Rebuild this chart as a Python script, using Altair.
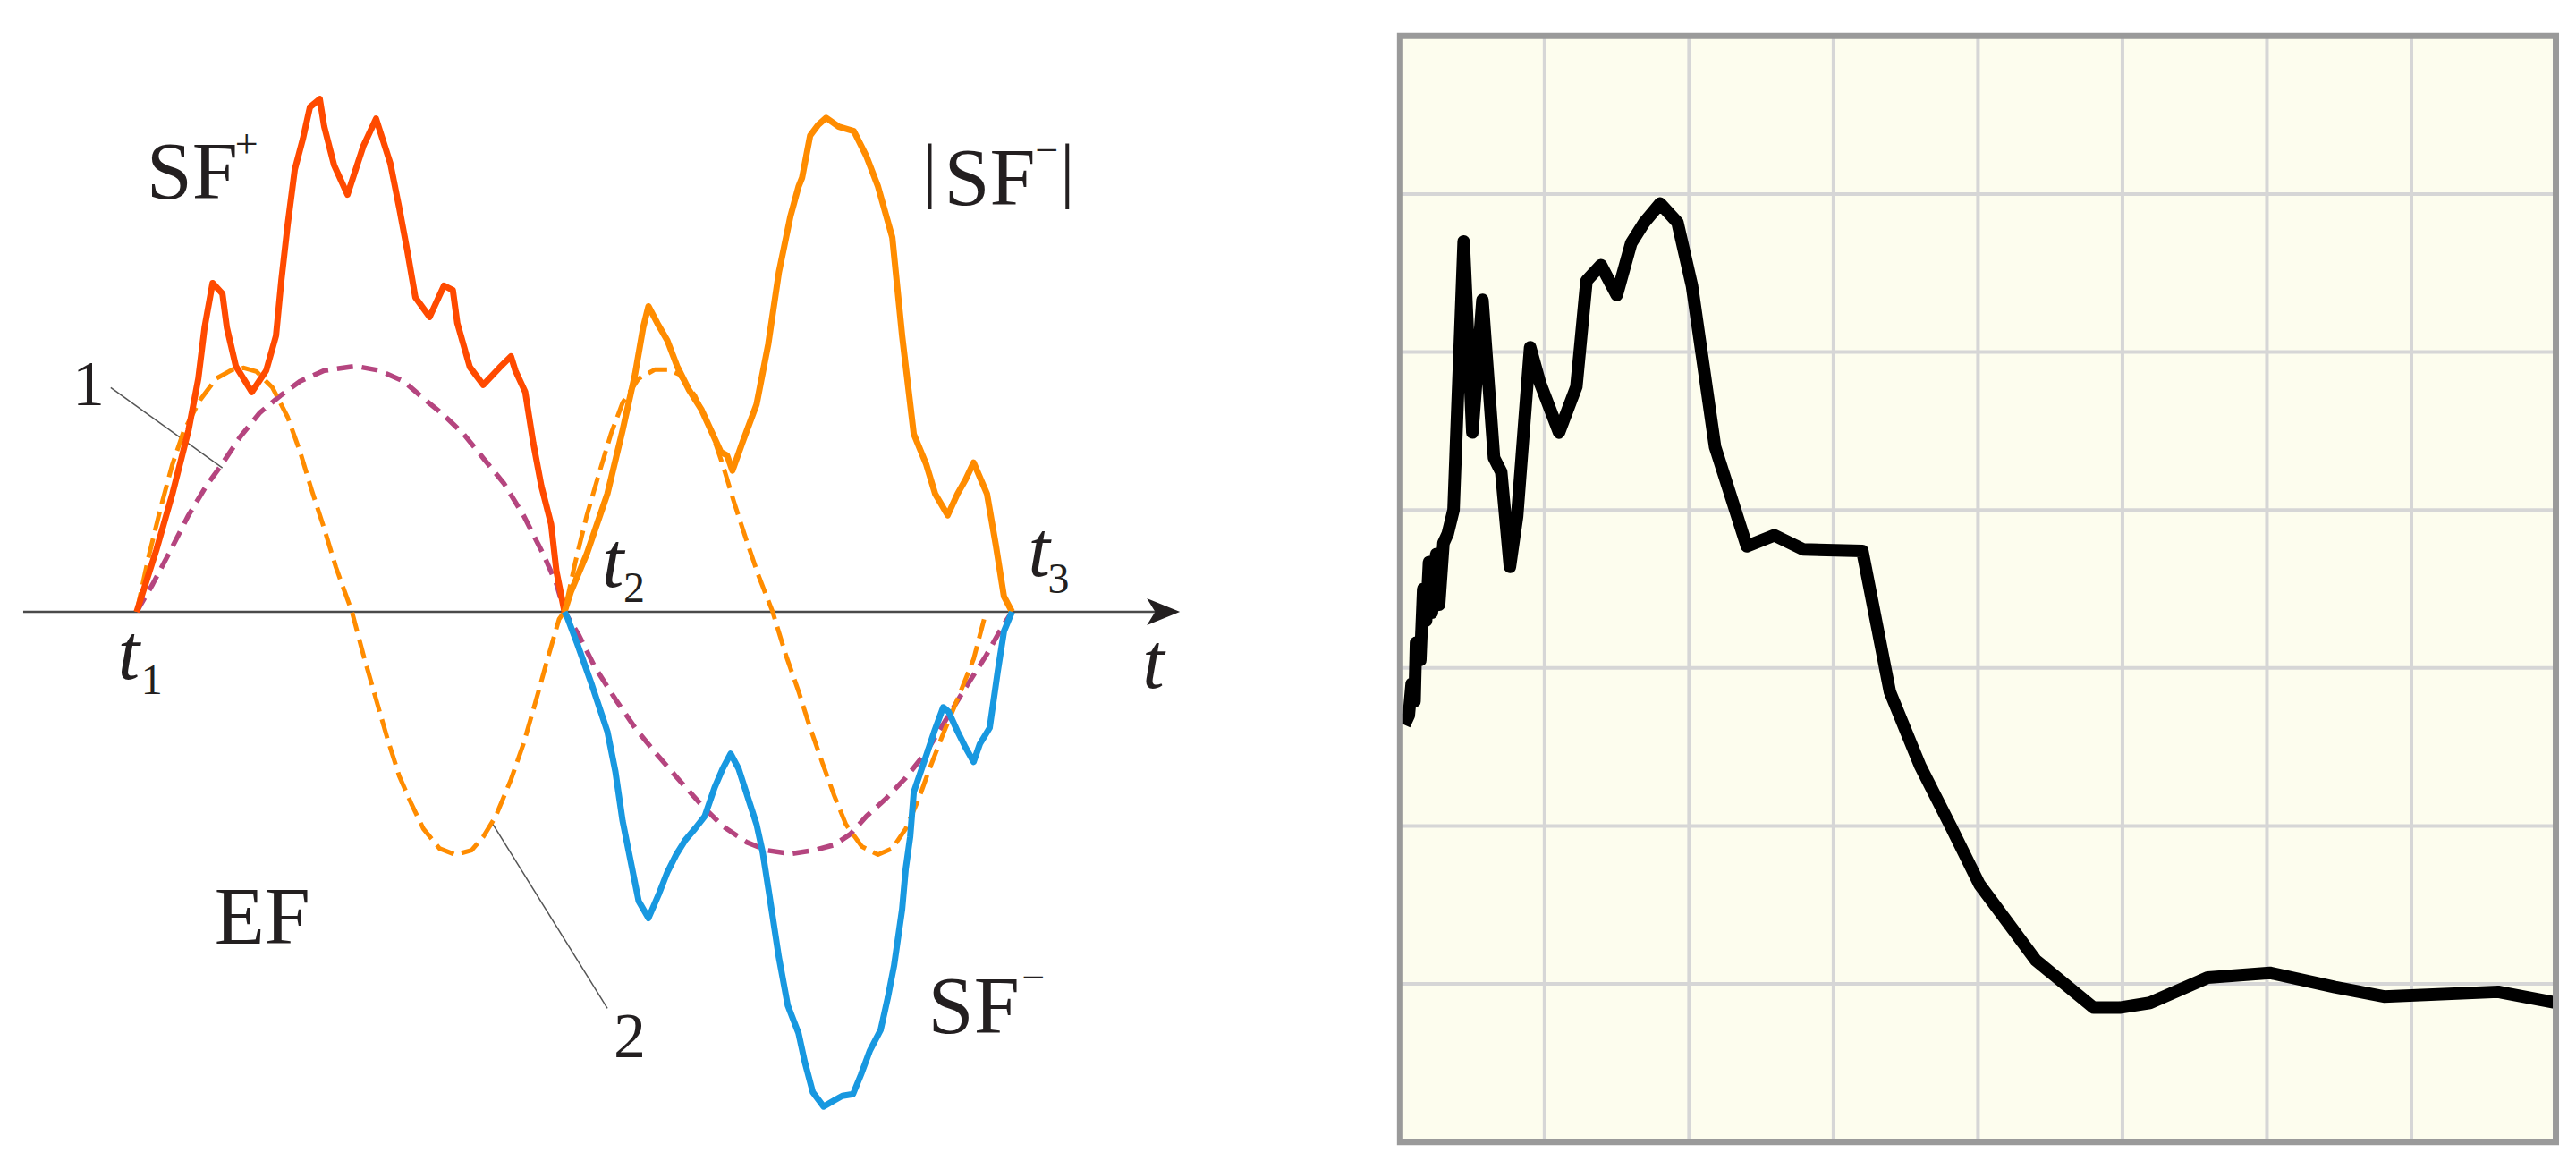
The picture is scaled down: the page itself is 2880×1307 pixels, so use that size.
import altair as alt
import pandas as pd

# ---------------- left panel: schematic (x = time, y = amplitude) ----------------
sfp_x = [152,174,192,210,221,228,237,248,253,263,281,297,308,314,321,329,338,346,357,362,
         373,388,406,420,436,446,455,464,480,496,506,511,525,540,558,571,576,587,596,605,
         616,622,631]
sfp_y = [0,69,132,203,261,318,368,356,318,275,246,270,309,371,433,495,529,565,574,543,
         500,467,522,552,502,452,404,352,330,365,360,323,274,254,273,286,270,246,189,141,
         98,45,0]

sfm_abs_x = [631,638,656,679,696,710,719,725,735,746,757,770,784,795,806,813,819,830,846,859,
             871,884,893,897,906,915,924,938,955,969,982,998,1009,1022,1036,1046,1060,1071,1080,1089,
             1104,1114,1123,1132]
sfm_abs_y = [0,22,65,132,203,266,318,342,323,304,275,249,227,203,179,175,158,189,232,299,
             380,443,476,486,533,545,553,543,538,510,476,419,309,199,165,132,108,132,148,167,
             132,74,17,0]

sfm_x = [631,634,645,661,679,688,696,705,714,725,737,746,756,766,777,788,799,808,817,826,
         835,846,853,860,871,881,893,900,909,921,933,942,954,963,973,985,993,1000,1009,1013,
         1018,1022,1036,1045,1055,1061,1071,1080,1089,1096,1107,1116,1123,1132]
sfm_y = [0,-6,-35,-80,-134,-179,-234,-279,-324,-343,-315,-292,-272,-256,-243,-229,-197,-176,-159,-176,
         -204,-238,-270,-315,-387,-441,-472,-504,-538,-554,-547,-542,-540,-518,-491,-468,-432,-396,-333,-288,
         -252,-202,-161,-134,-107,-112,-134,-152,-168,-148,-130,-67,-22,0]

curve1_x = [152,170,188,210,230,246,268,290,313,335,362,397,424,451,473,496,518,540,563,585,607,622,631,
            647,665,688,710,732,759,784,808,835,857,884,911,933,951,969,991,1013,1036,1058,1080,1103,1121,1132]
curve1_y = [0,31,65,108,141,163,196,223,242,258,270,275,270,258,239,220,199,172,144,108,65,31,0,
            -26,-62,-98,-130,-157,-188,-216,-240,-258,-267,-271,-267,-261,-249,-229,-209,-186,-157,-121,-85,-49,-17,0]

curve2_x = [152,165,179,192,205,223,241,259,272,286,304,321,335,348,362,375,393,
            406,420,433,446,460,473,491,509,527,540,554,571,585,598,612,625,631,
            643,656,670,683,696,714,732,746,759,777,795,808,821,835,848,864,
            879,893,906,920,933,946,964,982,998,1013,1027,1040,1054,1071,1089,1103]
curve2_y = [0,60,117,165,203,237,261,271,273,269,251,218,179,136,93,50,0,
            -49,-98,-143,-184,-216,-243,-265,-272,-267,-252,-229,-188,-148,-103,-53,-8,0,
            55,108,156,199,234,261,271,271,266,242,203,165,122,79,41,0,
            -49,-89,-130,-170,-206,-238,-263,-272,-265,-243,-211,-175,-139,-98,-53,0]

axis_x = [25, 1300]
axis_y = [0, 0]

# labels
big_text = ["SF", "SF", "EF", "SF"]
big_x = [163, 1056, 239, 1038]
big_y = [463, 456, -372, -472]

sup_text = ["+", "\u2212", "\u2212"]
sup_x = [262, 1158, 1143]
sup_y = [523, 516, -411]

bar_text = ["|", "|"]
bar_x = [1032, 1186]
bar_y = [468, 468]

num_text = ["1", "2"]
num_x = [80, 686]
num_y = [231, -499]

t_text = ["t", "t", "t", "t"]
t_x = [131, 673, 1150, 1278]
t_y = [-75, 28, 40, -85]

sub_text = ["1", "2", "3"]
sub_x = [157, 697, 1172]
sub_y = [-92, 11, 21]

lead_x = [123, 549]
lead_y = [251, -235]
lead_x2 = [248, 679]
lead_y2 = [161, -444]

# ---------------- right panel: measured curve on a grid ----------------
rec_x = [0.03,0.06,0.08,0.10,0.11,0.14,0.16,0.18,0.20,0.22,
         0.25,0.27,0.30,0.33,0.37,0.44,0.50,0.57,0.65,0.70,0.76,
         0.81,0.90,0.97,1.10,1.22,1.29,1.39,1.50,1.60,1.69,
         1.80,1.92,2.02,2.18,2.40,2.59,2.79,3.20,3.39,3.60,
         3.81,4.01,4.40,4.80,4.98,5.19,5.59,6.02,6.47,6.81,
         7.60,8.00]
rec_y = [2.64,2.70,2.90,2.79,3.16,3.05,3.50,3.30,3.67,3.35,
         3.72,3.40,3.79,3.85,4.00,5.70,4.49,5.33,4.33,4.24,3.64,
         3.96,5.03,4.80,4.49,4.78,5.45,5.55,5.36,5.69,5.82,
         5.94,5.82,5.42,4.40,3.77,3.84,3.75,3.74,2.85,2.38,
         2.00,1.63,1.15,0.85,0.85,0.88,1.04,1.07,0.98,0.92,
         0.95,0.88]
grid_cols = [1, 2, 3, 4, 5, 6, 7]
grid_rows = [1, 2, 3, 4, 5, 6]
x_extent = [0, 8]
y_extent = [0, 7]

INK = "#231F20"
SERIF = "Liberation Serif, Times New Roman, serif"

xl = alt.Scale(domain=[8, 1408], zero=False, nice=False)
yl = alt.Scale(domain=[-616, 675], zero=False, nice=False)


def XL(f="x"):
    return alt.X(f"{f}:Q", scale=xl, axis=None)


def YL(f="y"):
    return alt.Y(f"{f}:Q", scale=yl, axis=None)


def curve(xs, ys, color, width, dash=None):
    df = pd.DataFrame({"x": xs, "y": ys, "i": list(range(len(xs)))})
    kw = dict(color=color, strokeWidth=width, strokeJoin="round", strokeCap="butt")
    if dash:
        kw["strokeDash"] = dash
    return alt.Chart(df).mark_line(**kw).encode(x=XL(), y=YL(), order="i:Q")


def labels(texts, xs, ys, size, baseline="alphabetic", style="normal"):
    df = pd.DataFrame({"t": texts, "x": xs, "y": ys})
    return alt.Chart(df).mark_text(
        font=SERIF, fontSize=size, fontStyle=style, align="left",
        baseline=baseline, color=INK
    ).encode(x=XL(), y=YL(), text="t:N")


axis_line = curve(axis_x, axis_y, "#4A4A4A", 2.5)
arrow = alt.Chart(pd.DataFrame({"x": [1301.5], "y": [0]})).mark_point(
    shape="M1,0 L-1,-0.81 L-0.5,0 L-1,0.81 Z", size=1369, filled=True,
    color=INK, opacity=1, strokeWidth=0
).encode(x=XL(), y=YL())

leaders = alt.Chart(pd.DataFrame({"x": lead_x, "y": lead_y, "x2": lead_x2, "y2": lead_y2})).mark_rule(
    color="#555555", strokeWidth=1.5
).encode(x=XL(), y=YL(), x2="x2:Q", y2="y2:Q")

left = alt.layer(
    axis_line,
    leaders,
    curve(curve1_x, curve1_y, "#B5457F", 5.5, [18, 10]),
    curve(curve2_x, curve2_y, "#FF8C00", 5, [22, 9]),
    curve(sfp_x, sfp_y, "#FF4A00", 7),
    curve(sfm_abs_x, sfm_abs_y, "#FF8C00", 7),
    curve(sfm_x, sfm_y, "#1898E0", 7),
    arrow,
    labels(big_text, big_x, big_y, 92),
    labels(sup_text, sup_x, sup_y, 46, baseline="middle"),
    labels(bar_text, bar_x, bar_y, 80),
    labels(num_text, num_x, num_y, 72),
    labels(t_text, t_x, t_y, 88, style="italic"),
    labels(sub_text, sub_x, sub_y, 48),
).properties(width=1400, height=1291)

# ---------------- right panel ----------------
xr = alt.Scale(domain=[-0.1515, 8.0835], zero=False, nice=False)
yr = alt.Scale(domain=[-0.127, 7.172], zero=False, nice=False)


def XR(f="x"):
    return alt.X(f"{f}:Q", scale=xr, axis=None)


def YR(f="y"):
    return alt.Y(f"{f}:Q", scale=yr, axis=None)


box = pd.DataFrame({"x": [x_extent[0]], "x2": [x_extent[1]], "y": [y_extent[0]], "y2": [y_extent[1]]})
bg = alt.Chart(box).mark_rect(fill="#FDFDEE").encode(x=XR(), x2="x2:Q", y=YR(), y2="y2:Q")
frame = alt.Chart(box).mark_rect(fillOpacity=0, stroke="#9A9A9A", strokeWidth=7).encode(
    x=XR(), x2="x2:Q", y=YR(), y2="y2:Q")

vgrid = alt.Chart(pd.DataFrame({"x": grid_cols, "y": [y_extent[0]] * len(grid_cols),
                                "y2": [y_extent[1]] * len(grid_cols)})).mark_rule(
    color="#D6D6D6", strokeWidth=4).encode(x=XR(), y=YR(), y2="y2:Q")
hgrid = alt.Chart(pd.DataFrame({"y": grid_rows, "x": [x_extent[0]] * len(grid_rows),
                                "x2": [x_extent[1]] * len(grid_rows)})).mark_rule(
    color="#D6D6D6", strokeWidth=4).encode(y=YR(), x=XR(), x2="x2:Q")

rec = alt.Chart(pd.DataFrame({"x": rec_x, "y": rec_y, "i": list(range(len(rec_x)))})).mark_line(
    color="#000000", strokeWidth=14, strokeJoin="round", strokeCap="butt"
).encode(x=XR(), y=YR(), order="i:Q")

right = alt.layer(bg, vgrid, hgrid, rec, frame).properties(width=1332, height=1291)

chart = alt.hconcat(left, right, spacing=132).properties(padding=0).configure_view(
    stroke="transparent")

chart.save("out.html", embed_options={"renderer": "svg", "actions": False})
